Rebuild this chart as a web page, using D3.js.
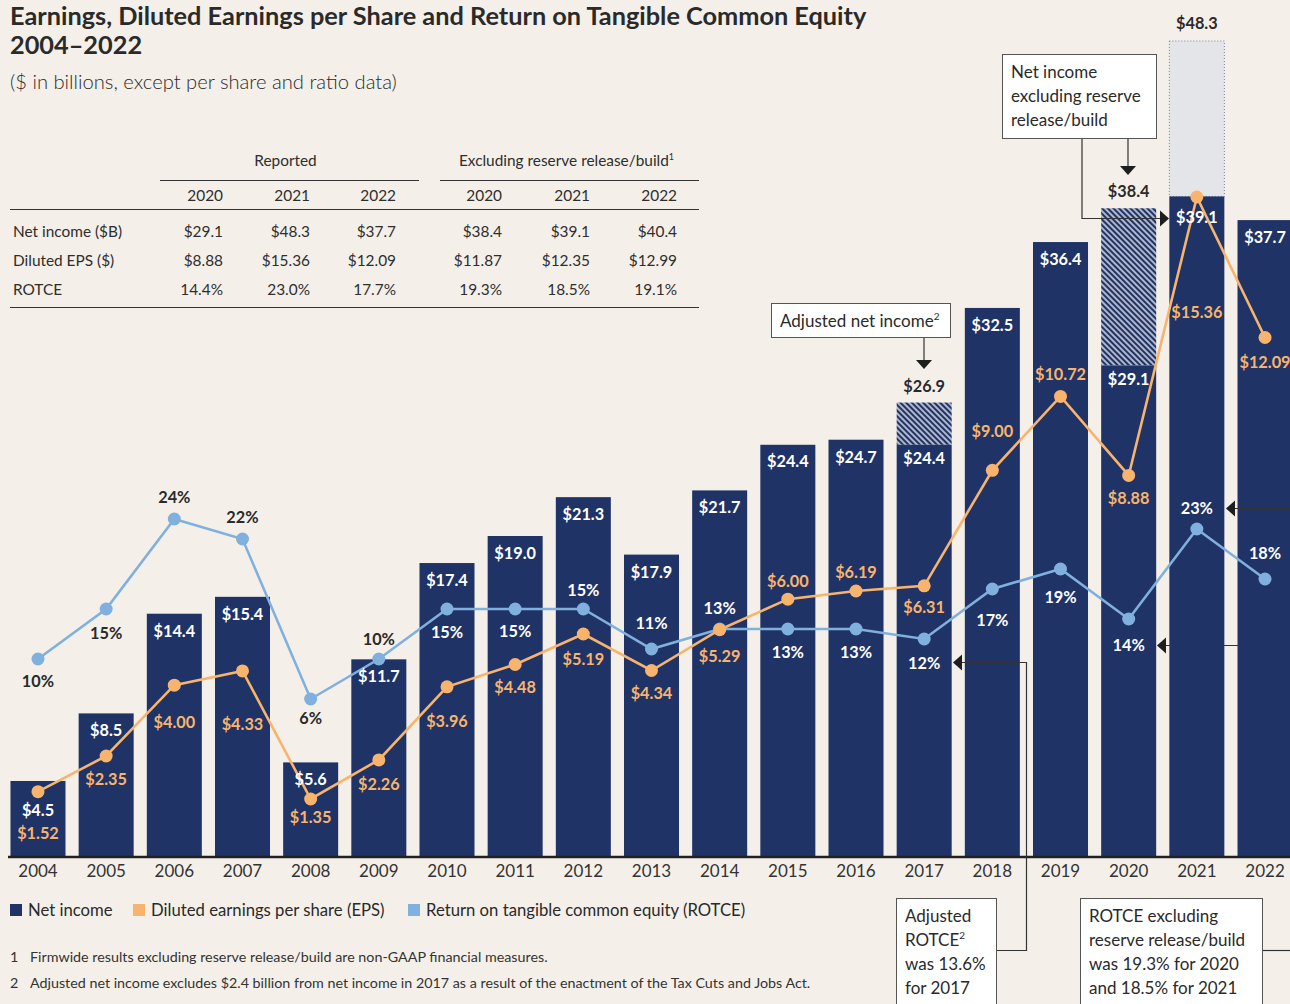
<!DOCTYPE html>
<html>
<head>
<meta charset="utf-8">
<script src="https://cdn.jsdelivr.net/npm/d3@7"></script>
<style>
  html, body { margin: 0; padding: 0; background: #f4f0e9; }
  svg { display: block; }
  text { font-family: Lato, "Open Sans", sans-serif; }
</style>
</head>
<body>
<svg id="chart" width="1290" height="1004"></svg>
<script>
// ---------- DATA ----------
const years = ['2004','2005','2006','2007','2008','2009','2010','2011','2012','2013','2014','2015','2016','2017','2018','2019','2020','2021','2022'];
// Dark bar values (2021 shown excluding reserve release/build)
const netIncome = [4.5, 8.5, 14.4, 15.4, 5.6, 11.7, 17.4, 19.0, 21.3, 17.9, 21.7, 24.4, 24.7, 24.4, 32.5, 36.4, 29.1, 39.1, 37.7];
const eps = [1.52, 2.35, 4.00, 4.33, 1.35, 2.26, 3.96, 4.48, 5.19, 4.34, 5.29, 6.00, 6.19, 6.31, 9.00, 10.72, 8.88, 15.36, 12.09];
const rotce = [10, 15, 24, 22, 6, 10, 15, 15, 15, 11, 13, 13, 13, 12, 17, 19, 14, 23, 18];
// Hatched extensions (adjusted / excluding reserve release/build)
const hatchYears = ['2017', '2020'];
const hatchValues = [26.9, 38.4];
// Reported net income shown as ghost bar
const ghostYears = ['2021'];
const ghostValues = [48.3];

// Table
const tableGroups = ['Reported', 'Excluding reserve release/build'];
const tableYears = ['2020', '2021', '2022'];
const tableRows = ['Net income ($B)', 'Diluted EPS ($)', 'ROTCE'];
const reportedValues = [['$29.1', '$48.3', '$37.7'], ['$8.88', '$15.36', '$12.09'], ['14.4%', '23.0%', '17.7%']];
const excludingValues = [['$38.4', '$39.1', '$40.4'], ['$11.87', '$12.35', '$12.99'], ['19.3%', '18.5%', '19.1%']];

const legendItems = ['Net income', 'Diluted earnings per share (EPS)', 'Return on tangible common equity (ROTCE)'];
const footnotes = ['Firmwide results excluding reserve release/build are non-GAAP financial measures.',
  'Adjusted net income excludes $2.4 billion from net income in 2017 as a result of the enactment of the Tax Cuts and Jobs Act.'];

// ---------- LAYOUT (label offsets, px) ----------
const netLabelDy = [29, 17, 17, 17, 17, 17, 17, 17, 17, 17, 17, 16, 17, 13, 17, 17, 14, 21, 17];
const epsLabelDy = [41, 23, 37, 53, 18, 24, 34, 22, 25, 22, 26, -18, -19, 21, -39, -22, 23, 115, 24];
const rotceLabelDy = [22, 24, -22, -22, 19, -20, 23, 22, -19, -26, -21, 23, 23, 24, 31, 28, 26, -21, -26];
const rotceDarkLabel = [true, true, true, true, true, true, false, false, false, false, false, false, false, false, false, false, false, false, false];

const C = {
  bg: '#f4f0e9', navy: '#1f3367', orange: '#f8b46c', blue: '#80b0de',
  text: '#2a2a2a', ghost: '#e4e5e8'
};

const svg = d3.select('#chart');
const defs = svg.append('defs');
const pat = defs.append('pattern').attr('id', 'hatch').attr('patternUnits', 'userSpaceOnUse')
  .attr('width', 4).attr('height', 4).attr('patternTransform', 'rotate(45)');
pat.append('rect').attr('width', 4).attr('height', 4).attr('fill', C.navy);
pat.append('line').attr('x1', 0).attr('x2', 4).attr('y1', 2).attr('y2', 2)
  .attr('stroke', '#ffffff').attr('stroke-width', 1.3);

// ---------- SCALES ----------
const x = d3.scaleBand().domain(years).range([3.9, 1299.1]).paddingInner(0.193).paddingOuter(0.0965);
const yBar = d3.scaleLinear().domain([0, 48.3]).range([857, 41]);
const yEps = d3.scaleLinear().domain([0, 15.36]).range([857, 197]);
const yRot = d3.scaleLinear().domain([0, 24]).range([759, 519]);
const cx = d => x(d) + x.bandwidth() / 2;

// ---------- TITLE ----------
svg.append('text').attr('x', 10).attr('y', 25).attr('font-size', 25.3).attr('font-weight', 700)
  .attr('fill', C.text).text('Earnings, Diluted Earnings per Share and Return on Tangible Common Equity');
svg.append('text').attr('x', 10).attr('y', 54).attr('font-size', 25.3).attr('font-weight', 700)
  .attr('fill', C.text).text('2004–2022');
svg.append('text').attr('x', 10).attr('y', 89).attr('font-size', 20.2).attr('font-weight', 300)
  .attr('fill', C.text).text('($ in billions, except per share and ratio data)');

// ---------- TABLE ----------
const tbl = svg.append('g').attr('font-size', 15.4).attr('fill', '#2e2e2e');
const colRight = [223, 310, 396, 502, 590, 677];
const groupSpan = [[160, 419], [440, 699]];
tableGroups.forEach((g, i) => {
  const t = tbl.append('text').attr('x', (groupSpan[i][0] + groupSpan[i][1]) / 2 + (i ? -3 : -4)).attr('y', 166)
    .attr('text-anchor', 'middle').text(g);
  if (i === 1) t.append('tspan').attr('font-size', 9).attr('dy', -6).text('1');
  tbl.append('line').attr('x1', groupSpan[i][0]).attr('x2', groupSpan[i][1]).attr('y1', 180.5).attr('y2', 180.5)
    .attr('stroke', '#333').attr('stroke-width', 1);
});
[...tableYears, ...tableYears].forEach((yr, i) => {
  tbl.append('text').attr('x', colRight[i]).attr('y', 201).attr('text-anchor', 'end').text(yr);
});
tbl.append('line').attr('x1', 10).attr('x2', 699).attr('y1', 209.5).attr('y2', 209.5).attr('stroke', '#333');
tableRows.forEach((r, ri) => {
  const yy = 237 + ri * 29;
  tbl.append('text').attr('x', 13).attr('y', yy).text(r);
  [...reportedValues[ri], ...excludingValues[ri]].forEach((v, ci) => {
    tbl.append('text').attr('x', colRight[ci]).attr('y', yy).attr('text-anchor', 'end').text(v);
  });
});
tbl.append('line').attr('x1', 10).attr('x2', 699).attr('y1', 307.5).attr('y2', 307.5).attr('stroke', '#333');

// ---------- BARS ----------
const gBars = svg.append('g');
gBars.selectAll('rect.ghost').data(ghostYears).join('rect')
  .attr('x', d => x(d)).attr('width', x.bandwidth())
  .attr('y', (d, i) => yBar(ghostValues[i]))
  .attr('height', (d, i) => yBar(netIncome[years.indexOf(d)]) - yBar(ghostValues[i]))
  .attr('fill', C.ghost).attr('stroke', '#6f7fa6').attr('stroke-width', 1).attr('stroke-dasharray', '1,2');
gBars.selectAll('rect.hatch').data(hatchYears).join('rect')
  .attr('x', d => x(d)).attr('width', x.bandwidth())
  .attr('y', (d, i) => yBar(hatchValues[i]))
  .attr('height', (d, i) => yBar(netIncome[years.indexOf(d)]) - yBar(hatchValues[i]))
  .attr('fill', 'url(#hatch)');
gBars.selectAll('rect.bar').data(years).join('rect')
  .attr('x', d => x(d)).attr('width', x.bandwidth())
  .attr('y', (d, i) => yBar(netIncome[i]))
  .attr('height', (d, i) => yBar(0) - yBar(netIncome[i]))
  .attr('fill', C.navy);

// axis
const xAxis = svg.append('g').attr('transform', 'translate(0,857)')
  .call(d3.axisBottom(x).tickSize(0).tickPadding(8));
xAxis.select('.domain').remove();
xAxis.append('line').attr('x1', 8).attr('x2', 1290).attr('y1', 0).attr('y2', 0)
  .attr('stroke', '#222').attr('stroke-width', 2.5);
xAxis.selectAll('.tick text').attr('font-family', 'Lato, sans-serif').attr('font-size', 17)
  .attr('fill', '#333').attr('font-weight', 400);

// ---------- ANNOTATION CONNECTORS ----------
const ann = svg.append('g').attr('stroke', '#333').attr('stroke-width', 1.2).attr('fill', 'none');
const tri = (px, py, dir) => {
  const s = 8, l = 9;
  let pts;
  if (dir === 'down') pts = [[px - s, py], [px + s, py], [px, py + l]];
  if (dir === 'right') pts = [[px, py - s], [px, py + s], [px + l, py]];
  if (dir === 'left') pts = [[px, py - s], [px, py + s], [px - l, py]];
  svg.append('polygon').attr('points', pts.map(p => p.join(',')).join(' ')).attr('fill', '#1e1e1e');
};
ann.append('path').attr('d', 'M1128,138 V166');
ann.append('path').attr('d', 'M1082,138 V218.5 H1160');
ann.append('path').attr('d', 'M924,337 V360');
ann.append('path').attr('d', 'M996,950.5 H1026.5 V662.5 H962');
ann.append('path').attr('d', 'M1262,950.5 H1290');
ann.append('path').attr('d', 'M1290,508.5 H1235');
ann.append('path').attr('d', 'M1290,645.5 H1166');

// ---------- LINES ----------
const lineEps = d3.line().x((d, i) => cx(years[i])).y(d => yEps(d));
const lineRot = d3.line().x((d, i) => cx(years[i])).y(d => yRot(d));
svg.append('path').attr('d', lineRot(rotce)).attr('fill', 'none').attr('stroke', C.blue).attr('stroke-width', 2.6);
svg.append('path').attr('d', lineEps(eps)).attr('fill', 'none').attr('stroke', C.orange).attr('stroke-width', 2.6);
svg.append('g').selectAll('circle').data(rotce).join('circle')
  .attr('cx', (d, i) => cx(years[i])).attr('cy', d => yRot(d)).attr('r', 6.5).attr('fill', C.blue);
svg.append('g').selectAll('circle').data(eps).join('circle')
  .attr('cx', (d, i) => cx(years[i])).attr('cy', d => yEps(d)).attr('r', 6.5).attr('fill', C.orange);

tri(1128, 166, 'down');
tri(1160, 218.5, 'right');
tri(924, 360, 'down');
tri(962, 662.5, 'left');
tri(1235, 508.5, 'left');
tri(1166, 645.5, 'left');

// ---------- LABELS ----------
const lbl = svg.append('g').attr('font-size', 16.3).attr('font-weight', 700).attr('text-anchor', 'middle');
years.forEach((yr, i) => {
  lbl.append('text').attr('x', cx(yr)).attr('y', yBar(netIncome[i]) + netLabelDy[i] + 6)
    .attr('fill', '#ffffff').text('$' + netIncome[i].toFixed(1));
  lbl.append('text').attr('x', cx(yr)).attr('y', yEps(eps[i]) + epsLabelDy[i] + 6)
    .attr('fill', C.orange).text('$' + eps[i].toFixed(2));
  lbl.append('text').attr('x', cx(yr)).attr('y', yRot(rotce[i]) + rotceLabelDy[i] + 6)
    .attr('fill', rotceDarkLabel[i] ? C.text : '#ffffff').text(rotce[i] + '%');
});
hatchYears.forEach((yr, i) => {
  lbl.append('text').attr('x', cx(yr)).attr('y', yBar(hatchValues[i]) - 17 + 6)
    .attr('fill', C.text).text('$' + hatchValues[i].toFixed(1));
});
ghostYears.forEach((yr, i) => {
  lbl.append('text').attr('x', cx(yr)).attr('y', yBar(ghostValues[i]) - 18 + 6)
    .attr('fill', C.text).text('$' + ghostValues[i].toFixed(1));
});

// ---------- ANNOTATION BOXES ----------
const box = (bx, by, bw, bh, lines, sup) => {
  svg.append('rect').attr('x', bx + 0.5).attr('y', by + 0.5).attr('width', bw).attr('height', bh)
    .attr('fill', '#ffffff').attr('stroke', '#555').attr('stroke-width', 1);
  lines.forEach((ln, j) => {
    const t = svg.append('text').attr('x', bx + 9).attr('y', by + 24 + j * 24)
      .attr('font-size', 17).attr('fill', C.text).text(ln);
    if (sup && sup[j]) t.append('tspan').attr('font-size', 10).attr('dy', -7).text(sup[j]);
  });
};
box(1002, 54, 154, 84, ['Net income', 'excluding reserve', 'release/build']);
box(771, 303, 179, 34, ['Adjusted net income'], ['2']);
box(896, 898, 100, 120, ['Adjusted', 'ROTCE', 'was 13.6%', 'for 2017'], [null, '2']);
box(1080, 898, 182, 120, ['ROTCE excluding', 'reserve release/build', 'was 19.3% for 2020', 'and 18.5% for 2021']);

// ---------- LEGEND ----------
const legColors = [C.navy, C.orange, C.blue];
const legX = [10, 133, 408];
legendItems.forEach((it, i) => {
  svg.append('rect').attr('x', legX[i]).attr('y', 904).attr('width', 12).attr('height', 12).attr('fill', legColors[i]);
  svg.append('text').attr('x', legX[i] + 18).attr('y', 916).attr('font-size', 16.7).attr('fill', C.text).text(it);
});

// ---------- FOOTNOTES ----------
footnotes.forEach((f, i) => {
  svg.append('text').attr('x', 10).attr('y', 962 + i * 26).attr('font-size', 14.3).attr('fill', '#333').text(String(i + 1));
  svg.append('text').attr('x', 30).attr('y', 962 + i * 26).attr('font-size', 14.3).attr('fill', '#333').text(f);
});
</script>
</body>
</html>
